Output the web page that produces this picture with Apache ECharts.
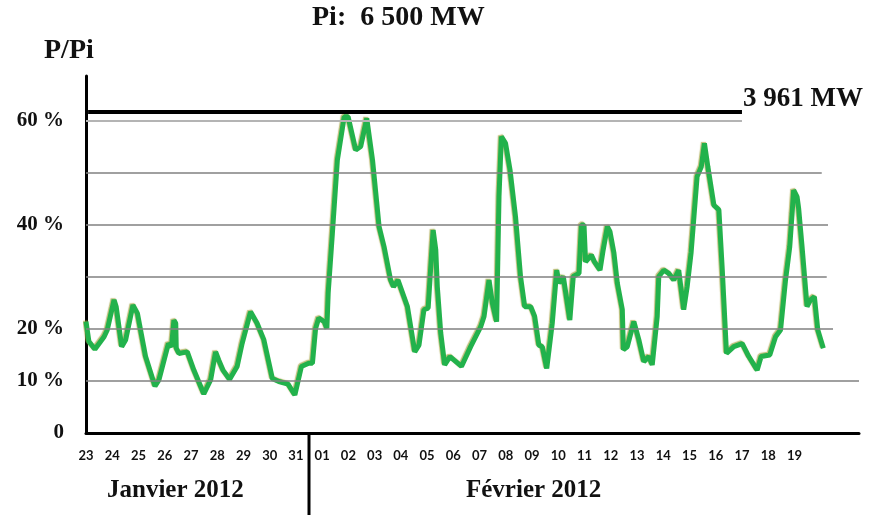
<!DOCTYPE html>
<html>
<head>
<meta charset="utf-8">
<script src="https://cdn.jsdelivr.net/npm/echarts@6/dist/echarts.min.js"></script>
<style>
html,body{margin:0;padding:0;background:#fff;}
#chart{width:873px;height:515px;}
</style>
</head>
<body>
<div id="chart"></div>
<script>
// Day labels (23 Jan 2012 .. 19 Feb 2012)
const dayLabels = ['23','24','25','26','27','28','29','30','31','01','02','03','04','05','06','07','08','09','10','11','12','13','14','15','16','17','18','19'];
// Y tick labels
const yTickValues = [0, 10, 20, 40, 60];
const yTickText = ['0', '10 %', '20 %', '40 %', '60 %'];
// Gridline levels (%) and how far (in days) each is drawn
const gridLevels = [10, 20, 30, 40, 50, 60];
const gridEnds = [29.46, 28.47, 28.23, 28.28, 28.04, 25.0];
// Installed power reference
const refLevel = 61.7;
const refEnd = 25.0;
// Time (days since 23 Jan 00h) and load factor P/Pi (%)
const days = [0.0,0.11,0.34,0.69,0.81,1.07,1.15,1.36,1.51,1.79,1.96,2.27,2.63,2.78,3.14,3.26,3.35,3.42,3.44,3.54,3.86,4.11,4.49,4.75,4.94,5.06,5.22,5.47,5.76,5.95,6.27,6.52,6.78,7.10,7.35,7.70,7.96,8.21,8.49,8.63,8.75,8.87,9.08,9.18,9.23,9.39,9.58,9.84,9.99,10.28,10.47,10.70,10.92,11.17,11.36,11.61,11.72,11.89,12.25,12.53,12.69,12.88,13.04,13.14,13.23,13.33,13.39,13.52,13.67,13.87,14.03,14.31,14.66,15.04,15.17,15.36,15.49,15.65,15.74,15.83,15.99,16.16,16.37,16.56,16.72,16.95,17.10,17.26,17.39,17.56,17.77,17.94,18.03,18.19,18.44,18.57,18.79,18.88,18.98,19.04,19.26,19.38,19.59,19.71,19.87,19.97,20.12,20.25,20.44,20.48,20.63,20.88,21.07,21.26,21.45,21.58,21.77,21.83,22.02,22.21,22.40,22.59,22.78,22.91,23.06,23.29,23.45,23.57,23.70,23.93,24.12,24.25,24.41,24.69,25.01,25.26,25.58,25.73,26.06,26.28,26.47,26.66,26.82,26.91,26.97,27.10,27.16,27.29,27.48,27.61,27.76,27.89,28.10];
const load = [21.4,17.6,16.1,18.5,19.8,25.6,24.3,16.6,17.9,24.6,23.0,14.7,9.0,10.2,17.2,16.6,21.7,21.1,16.3,15.3,15.6,12.1,7.5,10.2,15.6,14.0,12.1,10.3,12.8,17.2,23.3,21.1,17.9,10.5,9.9,9.4,7.3,12.8,13.4,13.4,20.1,22.1,21.4,20.1,26.9,38.4,52.5,60.8,60.8,54.4,55.1,60.5,52.5,39.7,35.8,29.4,28.1,29.4,24.3,15.6,16.9,23.7,24.0,32.0,39.0,35.2,28.1,19.2,13.1,14.7,14.0,12.8,16.6,20.4,22.4,29.4,24.9,21.4,45.4,57.0,55.7,50.6,41.6,30.1,24.3,24.3,22.4,16.9,16.6,12.4,21.1,31.3,28.8,30.1,21.7,30.1,30.7,40.0,40.0,32.9,34.2,32.9,31.3,35.2,39.7,38.7,34.6,28.8,23.7,16.0,16.6,21.4,17.9,13.7,14.7,13.1,22.4,30.1,31.3,30.7,29.4,31.3,23.7,28.1,34.6,49.3,51.2,55.7,51.2,43.8,42.9,31.3,15.3,16.6,17.2,14.7,12.1,14.7,15.0,18.5,19.8,29.4,35.8,42.2,46.7,45.4,43.2,35.8,24.3,25.6,26.2,19.8,16.3];

const seriesData = days.map((d, i) => [d, load[i]]);

const gridMarks = gridLevels.map((lv, i) => [
  {coord: [0, lv], lineStyle: {color: lv === 60 ? '#b4b4b4' : '#808080', width: lv === 60 ? 2 : 1.5, type: 'solid'}},
  {coord: [gridEnds[i], lv]}
]);
gridMarks.push([
  {coord: [0.08, refLevel], lineStyle: {color: '#000', width: 4, type: 'solid'}},
  {coord: [refEnd, refLevel]}
]);

const serif = '"Liberation Serif", "DejaVu Serif", serif';
const chart = echarts.init(document.getElementById('chart'));
chart.setOption({
  animation: false,
  backgroundColor: '#fff',
  grid: {left: 86, top: 76, right: 14, bottom: 82, containLabel: false},
  xAxis: {
    type: 'value', min: 0, max: 29.46, interval: 1,
    axisLine: {show: true, onZero: false, lineStyle: {color: '#000', width: 3}},
    axisTick: {show: false},
    splitLine: {show: false},
    axisLabel: {
      showMaxLabel: false, margin: 16,
      color: '#111', fontFamily: 'Lato, "Noto Sans", sans-serif', fontWeight: 'bold', fontSize: 13,
      formatter: v => (Number.isInteger(v) && dayLabels[v] !== undefined) ? dayLabels[v] : ''
    }
  },
  yAxis: {
    type: 'value', min: 0, max: 68.65, interval: 10,
    axisLine: {show: true, lineStyle: {color: '#000', width: 3}},
    axisTick: {show: false},
    splitLine: {show: false},
    axisLabel: {
      showMaxLabel: false, margin: 22,
      color: '#111', fontFamily: serif, fontWeight: 'bold', fontSize: 21,
      formatter: v => { const k = yTickValues.indexOf(v); return k >= 0 ? yTickText[k] : ''; }
    }
  },
  series: [
    {
      type: 'line', data: [[0, 0]], z: 1, silent: true, showSymbol: false, symbol: 'none',
      lineStyle: {opacity: 0},
      markLine: {silent: true, symbol: 'none', label: {show: false}, animation: false, data: gridMarks}
    },
    {
      type: 'line', data: seriesData, z: 3, showSymbol: false, smooth: false,
      lineStyle: {color: '#22b24c', width: 5, shadowColor: 'rgba(160,160,60,0.7)', shadowBlur: 1, shadowOffsetX: -1, shadowOffsetY: -1}
    }
  ],
  graphic: [
    {type: 'text', left: 312, top: 4, style: {text: 'Pi:  6 500 MW', font: 'bold 28px ' + serif, fill: '#111'}},
    {type: 'text', left: 44, top: 37, style: {text: 'P/Pi', font: 'bold 28px ' + serif, fill: '#111'}},
    {type: 'text', left: 743, top: 86, style: {text: '3 961 MW', font: 'bold 27px ' + serif, fill: '#111'}},
    {type: 'text', left: 107, top: 478, style: {text: 'Janvier 2012', font: 'bold 25px ' + serif, fill: '#111'}},
    {type: 'text', left: 466, top: 478, style: {text: 'Février 2012', font: 'bold 25px ' + serif, fill: '#111'}},
    {type: 'line', shape: {x1: 309, y1: 433, x2: 309, y2: 515}, style: {stroke: '#000', lineWidth: 3}}
  ]
});
</script>
</body>
</html>
